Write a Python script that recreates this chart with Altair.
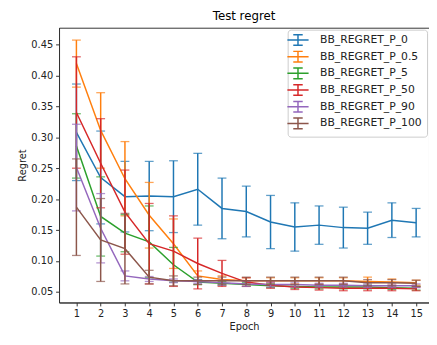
import altair as alt
import pandas as pd

epochs = list(range(1, 16))
series_names = ["BB_REGRET_P_0", "BB_REGRET_P_0.5", "BB_REGRET_P_5",
                "BB_REGRET_P_50", "BB_REGRET_P_90", "BB_REGRET_P_100"]
colors = ["#1f77b4", "#ff7f0e", "#2ca02c", "#d62728", "#9467bd", "#8c564b"]

mean_p0 = [0.308, 0.235, 0.204, 0.205, 0.204, 0.216, 0.185, 0.180, 0.163, 0.155, 0.158, 0.154, 0.153, 0.166, 0.162]
std_p0 = [0.078, 0.075, 0.057, 0.056, 0.058, 0.058, 0.049, 0.041, 0.043, 0.039, 0.031, 0.033, 0.026, 0.028, 0.023]
mean_p05 = [0.419, 0.311, 0.233, 0.174, 0.128, 0.076, 0.070, 0.068, 0.068, 0.068, 0.068, 0.068, 0.067, 0.066, 0.065]
std_p05 = [0.038, 0.061, 0.060, 0.053, 0.040, 0.008, 0.006, 0.005, 0.005, 0.005, 0.005, 0.005, 0.007, 0.005, 0.004]
mean_p5 = [0.286, 0.172, 0.145, 0.131, 0.094, 0.066, 0.064, 0.062, 0.060, 0.059, 0.058, 0.058, 0.058, 0.057, 0.056]
std_p5 = [0.052, 0.064, 0.030, 0.058, 0.028, 0.004, 0.003, 0.003, 0.003, 0.003, 0.003, 0.003, 0.003, 0.003, 0.003]
mean_p50 = [0.340, 0.258, 0.179, 0.128, 0.116, 0.096, 0.080, 0.066, 0.061, 0.058, 0.057, 0.056, 0.056, 0.056, 0.055]
std_p50 = [0.090, 0.072, 0.068, 0.065, 0.057, 0.041, 0.021, 0.007, 0.005, 0.004, 0.004, 0.004, 0.004, 0.004, 0.003]
mean_p90 = [0.251, 0.153, 0.076, 0.071, 0.068, 0.067, 0.065, 0.063, 0.062, 0.062, 0.061, 0.061, 0.060, 0.060, 0.060]
std_p90 = [0.070, 0.056, 0.008, 0.004, 0.003, 0.003, 0.004, 0.004, 0.004, 0.004, 0.003, 0.003, 0.003, 0.003, 0.003]
mean_p100 = [0.187, 0.134, 0.120, 0.074, 0.068, 0.068, 0.068, 0.068, 0.068, 0.068, 0.068, 0.068, 0.065, 0.065, 0.064]
std_p100 = [0.078, 0.067, 0.057, 0.011, 0.008, 0.006, 0.006, 0.006, 0.006, 0.006, 0.006, 0.006, 0.005, 0.005, 0.005]

y_ticks = [0.05, 0.10, 0.15, 0.20, 0.25, 0.30, 0.35, 0.40, 0.45]

means = [mean_p0, mean_p05, mean_p5, mean_p50, mean_p90, mean_p100]
stds = [std_p0, std_p05, std_p5, std_p50, std_p90, std_p100]

rows = []
for si, name in enumerate(series_names):
    for e, m, s in zip(epochs, means[si], stds[si]):
        rows.append({"epoch": e, "series": name, "order": si,
                     "mean": m, "lo": m - s, "hi": m + s})
df = pd.DataFrame(rows)

xscale = alt.Scale(domain=[0.284, 15.53], nice=False, zero=False)
yscale = alt.Scale(domain=[0.033, 0.477], nice=False, zero=False)
cscale = alt.Scale(domain=series_names, range=colors)

x_enc = alt.X("epoch:Q", scale=xscale, title="Epoch",
              axis=alt.Axis(values=epochs, format="d", labelOverlap=False))
yax = alt.Axis(values=y_ticks, format=".2f", labelOverlap=False)


def yenc(field):
    return alt.Y(field, type="quantitative", scale=yscale, title="Regret", axis=yax)


layers = []
for si, name in enumerate(series_names):
    base = alt.Chart(df[df["series"] == name]).encode(x=x_enc)
    col = alt.Color("series:N", scale=cscale,
                    legend=(alt.Legend(title=None) if si == 0 else None))
    nocol = alt.Color("series:N", scale=cscale, legend=None)
    line = base.mark_line(strokeWidth=1.5).encode(y=yenc("mean"), color=col)
    bars = base.mark_rule(strokeWidth=1.5).encode(
        y=yenc("lo"), y2="hi:Q", color=nocol)
    cap_hi = base.mark_tick(orient="horizontal", size=9, thickness=1.3).encode(
        y=yenc("hi"), color=nocol)
    cap_lo = base.mark_tick(orient="horizontal", size=9, thickness=1.3).encode(
        y=yenc("lo"), color=nocol)
    layers += [line, bars, cap_hi, cap_lo]

chart = alt.layer(*layers).properties(
    width=377, height=280,
    title=alt.TitleParams("Test regret", fontSize=12, fontWeight="normal",
                          font="DejaVu Sans", color="#000", offset=5),
    autosize=alt.AutoSizeParams(type="none"),
    padding={"left": 52, "top": 17, "right": 0, "bottom": 28},
).configure_view(
    stroke="#333", strokeWidth=1
).configure_axis(
    grid=False, domainColor="#333", tickColor="#333", tickSize=3.5,
    labelFont="DejaVu Sans", labelFontSize=10, labelColor="#222",
    titleFont="DejaVu Sans", titleFontSize=10, titleFontWeight="normal",
    titleColor="#222", labelPadding=3, titlePadding=3
).configure_legend(
    orient="top-right", offset=2, padding=5, strokeColor="#cccccc",
    fillColor="white", cornerRadius=3,
    labelFont="DejaVu Sans", labelFontSize=11, labelColor="#222",
    symbolType="M-2.4,0H2.4M0,-1.2V1.2M-1.07,-1.2H1.07M-1.07,1.2H1.07",
    symbolSize=81, symbolStrokeWidth=1.5, symbolFillColor="transparent",
    labelOffset=17, rowPadding=0
)

chart.save("out.html", embed_options={"renderer": "svg", "actions": False})
